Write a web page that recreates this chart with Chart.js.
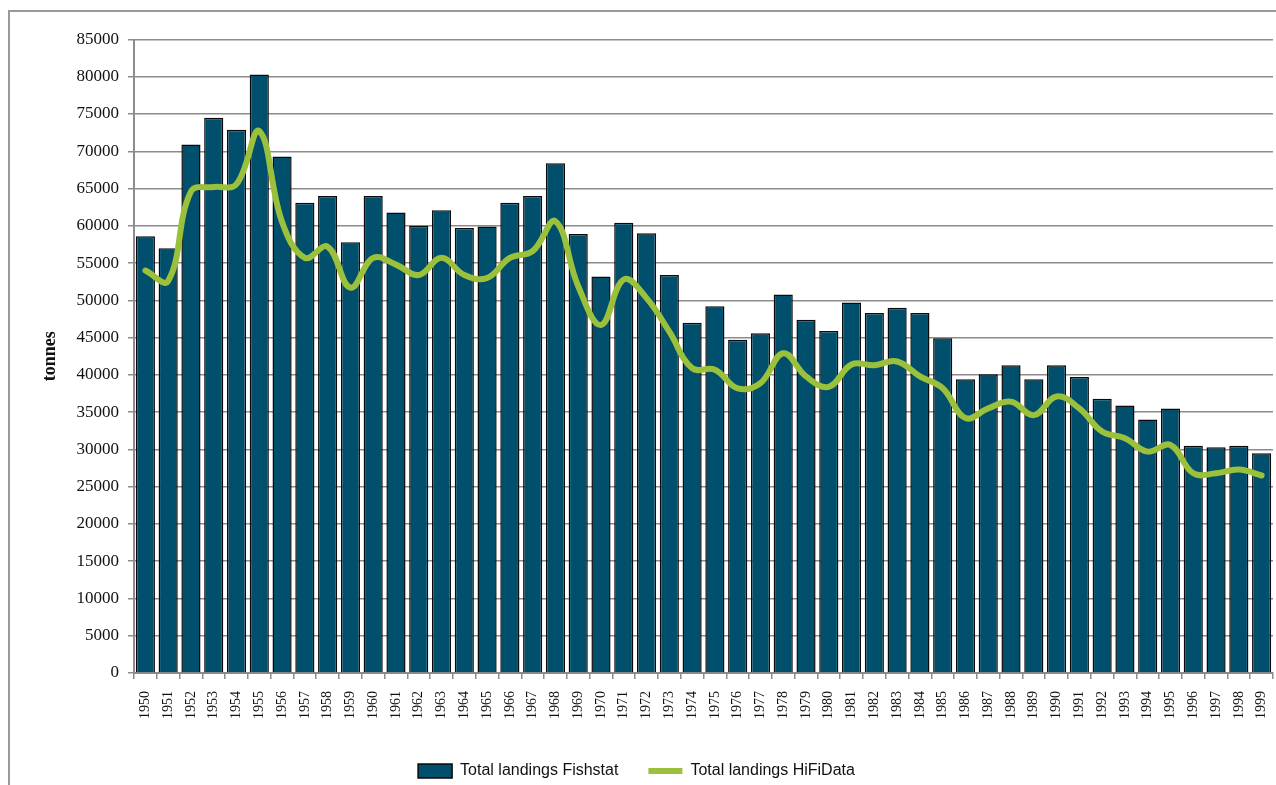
<!DOCTYPE html>
<html>
<head>
<meta charset="utf-8">
<script src="https://cdn.jsdelivr.net/npm/chart.js@4.4.1/dist/chart.umd.min.js"></script>
<style>
  html, body { margin: 0; padding: 0; background: #fff; }
  #frame { position: absolute; left: 8px; top: 10px; width: 1300px; height: 800px;
           border-left: 2px solid #9a9a9a; border-top: 2px solid #9a9a9a; }
  #wrap { position: absolute; left: 0; top: 0; width: 1276px; height: 785px; }
</style>
</head>
<body>
<div id="frame"></div>
<div id="wrap"><canvas id="barChart"></canvas></div>
<script>
// years 1950 - 1999
var years = ['1950', '1951', '1952', '1953', '1954', '1955', '1956', '1957', '1958', '1959',
             '1960', '1961', '1962', '1963', '1964', '1965', '1966', '1967', '1968', '1969',
             '1970', '1971', '1972', '1973', '1974', '1975', '1976', '1977', '1978', '1979',
             '1980', '1981', '1982', '1983', '1984', '1985', '1986', '1987', '1988', '1989',
             '1990', '1991', '1992', '1993', '1994', '1995', '1996', '1997', '1998', '1999'];

// tonnes
var fishstat = [58600, 57000, 70900, 74500, 72900, 80300, 69300, 63100, 64000, 57800,
                64000, 61800, 60000, 62100, 59700, 59900, 63100, 64000, 68400, 58900,
                53200, 60400, 59000, 53400, 47000, 49200, 44700, 45600, 50800, 47400,
                45900, 49700, 48300, 49000, 48300, 44900, 39400, 40100, 41300, 39400,
                41300, 39700, 36800, 35900, 34000, 35500, 30500, 30300, 30500, 29500];

var hifidata = [54000, 52600, 64600, 65200, 65600, 72700, 60500, 55700, 57200, 51700,
                55700, 54800, 53400, 55700, 53400, 53000, 55700, 56600, 60600, 51900,
                46700, 52800, 50300, 45800, 40900, 40700, 38200, 38900, 42900, 39800,
                38400, 41400, 41300, 41800, 39800, 38200, 34200, 35500, 36400, 34600,
                37100, 35500, 32400, 31500, 29700, 30600, 26800, 26800, 27300, 26500];

var yTicks = { min: 0, max: 85000, step: 5000 };

var serif = "'Liberation Serif', 'DejaVu Serif', serif";

var ctx = document.getElementById('barChart').getContext('2d');
var myChart = new Chart(ctx, {
    type: 'bar',
    data: {
        labels: years,
        datasets: [{
            label: 'Total landings Fishstat',
            data: fishstat,
            backgroundColor: '#004f6c',
            borderColor: '#0a0a0a',
            borderWidth: 1.5,
            barPercentage: 0.84,
            categoryPercentage: 1,
            pointStyle: 'rect',
            order: 1
        }, {
            type: 'line',
            label: 'Total landings HiFiData',
            data: hifidata,
            borderColor: '#9bc03c',
            backgroundColor: '#9bc03c',
            borderWidth: 6,
            borderCapStyle: 'round',
            pointRadius: 0,
            pointHoverRadius: 0,
            pointStyle: 'line',
            fill: false,
            tension: 0.4,
            order: 0
        }]
    },
    options: {
        responsive: true,
        maintainAspectRatio: false,
        animation: false,
        layout: { padding: { left: 0, right: 3, top: 39.5, bottom: -4 } },
        plugins: {
            tooltip: { enabled: false },
            legend: {
                position: 'bottom',
                labels: {
                    usePointStyle: true,
                    pointStyleWidth: 34,
                    boxHeight: 14,
                    padding: 30,
                    color: '#111',
                    font: { family: "'Liberation Sans', Arial, sans-serif", size: 16 },
                    sort: function(a, b) { return a.datasetIndex - b.datasetIndex; }
                }
            }
        },
        scales: {
            x: {
                grid: { display: true, drawOnChartArea: false, drawTicks: true, tickLength: 6,
                        color: '#8c8c8c', lineWidth: 1.5 },
                border: { color: '#8c8c8c', width: 2 },
                ticks: {
                    maxRotation: 90, minRotation: 90, autoSkip: false, padding: 12,
                    color: '#111', font: { family: serif, size: 14 }
                },
                afterFit: function(scale) {
                    scale.height = 60;
                    scale.paddingLeft = 0;
                    scale.paddingRight = 0;
                }
            },
            y: {
                min: yTicks.min,
                max: yTicks.max,
                grid: { color: '#8c8c8c', lineWidth: 1.5, tickLength: 6 },
                border: { color: '#8c8c8c', width: 2 },
                ticks: {
                    stepSize: yTicks.step, padding: 9, color: '#111',
                    font: { family: serif, size: 17 },
                    callback: function(value) { return value; }
                },
                title: {
                    display: true, text: 'tonnes', color: '#111',
                    font: { family: serif, size: 18, weight: 'bold' },
                    padding: { top: 40, bottom: 0 }
                },
                afterFit: function(scale) { scale.width = 134; }
            }
        }
    }
});
</script>
</body>
</html>
